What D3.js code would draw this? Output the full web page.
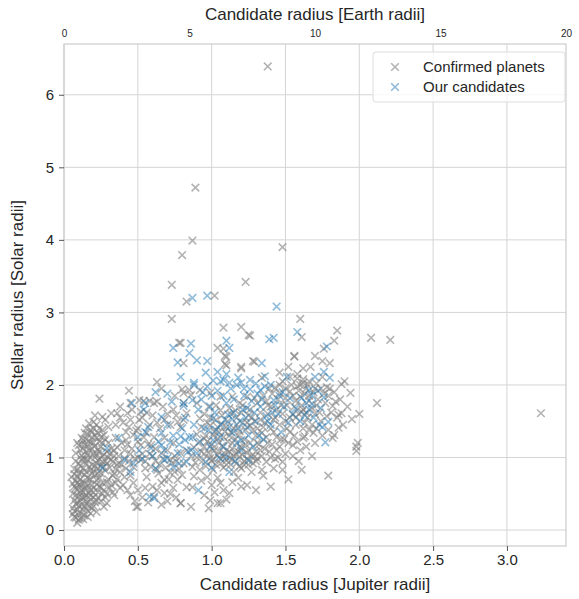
<!DOCTYPE html>
<html><head><meta charset="utf-8">
<script src="https://cdn.jsdelivr.net/npm/d3@7"></script>
<style>body{margin:0;background:#fff}text{font-family:"Liberation Sans",Arial,sans-serif;fill:#262626}</style>
</head><body><svg id="c" width="579" height="599"></svg>
<script>
// Confirmed planets: [planet radius (Jupiter radii), stellar radius (Solar radii)]
const confirmed = [
[1.38,6.39],[0.89,4.72],[0.87,3.99],[0.80,3.79],[1.48,3.90],[0.73,3.38],[1.23,3.42],[0.83,3.15],[1.02,3.23],[0.73,2.91],
[1.08,2.79],[1.20,2.80],[1.26,2.68],[0.78,2.58],[1.04,2.51],[1.08,2.50],[1.10,2.39],[1.10,2.27],[1.20,2.25],[1.29,2.32],
[1.60,2.91],[1.61,2.66],[1.85,2.75],[1.83,2.61],[1.56,2.39],[1.75,2.33],[1.80,2.30],[1.28,2.33],[1.62,2.23],[2.08,2.65],
[2.21,2.62],[3.23,1.61],[2.12,1.75],[1.94,1.89],[1.95,1.53],[1.99,1.20],[1.98,1.15],[1.98,1.09],[1.61,0.83],[1.79,0.75],
[1.88,2.01],[1.78,1.97],[1.75,2.11],[1.63,1.29],[1.69,1.34],[1.83,1.31],[1.82,1.27],[1.86,1.41],[1.88,1.61],[1.86,1.59],
[1.78,1.57],[1.61,1.63],[1.71,1.72],[1.84,1.77],[1.82,1.71],[1.60,2.00],[1.64,1.95],[1.62,2.08],[1.66,2.05],[1.58,1.98],
[1.25,2.69],[1.56,2.40],[1.09,2.40],[1.09,2.29],[1.20,2.23],[0.79,2.58],[1.34,2.10],[1.46,2.17],[1.53,2.11],[1.58,2.09],
[1.62,2.03],[1.46,2.00],[1.39,1.95],[1.46,1.89],[1.53,1.91],[1.60,1.84],[1.51,1.72],[1.56,1.70],[1.62,1.66],[1.55,1.59],
[1.44,1.66],[1.37,1.77],[1.29,1.82],[1.24,1.84],[1.19,1.75],[1.14,1.84],[1.06,1.84],[0.99,1.89],[0.92,1.93],[0.85,1.93],
[0.81,1.89],[0.83,1.61],[0.92,1.54],[0.97,1.48],[1.04,1.42],[1.10,1.42],[1.17,1.45],[1.24,1.48],[1.28,1.38],[1.35,1.42],
[1.42,1.52],[1.37,1.28],[1.31,1.20],[1.25,1.10],[1.19,1.15],[1.14,1.20],[1.12,1.08],[1.08,1.01],[1.04,1.03],[0.99,0.99],
[1.06,0.92],[1.10,0.90],[1.14,0.97],[1.19,1.01],[1.24,1.06],[1.33,1.10],[1.29,1.01],[1.34,0.83],[1.46,1.15],[1.48,0.83],
[1.62,1.27],[1.55,1.17],[1.48,0.94],[0.87,0.87],[0.92,0.83],[0.97,0.73],[1.01,0.83],[1.04,0.72],[1.12,0.51],[1.06,0.65],
[0.83,0.59],[0.79,1.06],[0.79,1.42],[0.81,1.52],[0.81,2.30],[1.06,0.37],[0.98,0.30],[0.99,0.41],[0.50,0.32],[0.79,0.37],
[1.04,0.37],[1.25,0.90],[1.30,0.95],[1.40,1.00],[1.50,1.05],[1.20,0.85],[1.15,0.80],[1.22,1.25],[1.18,1.30],[1.05,1.20],
[1.00,1.12],[0.95,1.05],[0.90,1.00],[0.96,1.30],[1.02,1.35],[1.08,1.28],[1.13,1.35],[1.27,1.55],[1.33,1.62],[1.40,1.70],
[1.45,1.80],[1.50,1.50],[1.57,1.45],[1.42,1.35],[1.38,1.20],[1.30,1.30],[1.13,1.60],[1.20,1.62],[1.06,1.65],[0.98,1.70],
[0.90,1.75],[1.00,0.95],[1.10,1.10],[1.16,1.05],[1.22,0.95],[1.27,0.80],[1.35,0.75],
[0.24,1.81],[0.63,2.04],[0.80,1.94],[0.32,1.61],[0.36,1.61],[0.26,1.56],[0.43,1.61],[0.45,1.75],[0.54,1.78],[0.61,1.75],
[0.20,1.49],[0.17,1.47],[0.45,1.52],[0.51,1.52],[0.49,1.37],[0.42,1.35],[0.42,1.24],[0.35,1.27],[0.12,1.27],[0.14,1.34],
[0.08,1.06],[0.05,0.73],[0.09,0.83],[0.16,0.97],[0.22,0.92],[0.27,0.87],[0.32,0.97],[0.36,0.90],[0.41,0.99],[0.47,0.87],
[0.52,0.97],[0.59,0.87],[0.66,0.65],[0.74,0.58],[0.79,0.37],[0.49,0.32],[0.34,0.48],[0.29,0.37],[0.22,0.25],[0.10,0.14],
[0.09,0.28],[0.07,0.41],[0.14,0.46],[0.18,0.55],[0.22,0.69],[0.14,0.65],[0.09,0.55],[0.25,0.59],[0.29,0.66],[0.12,0.79],
[0.18,0.83],[0.14,0.97],[0.20,1.06],[0.25,1.15],[0.29,1.08],[0.16,1.15],[0.10,1.17],[0.22,1.27],[0.27,1.31],[0.18,1.21],
[0.12,1.03],[0.17,0.87],[0.08,0.69],[0.14,0.32],[0.18,0.23],[0.12,0.23],[0.22,0.41],[0.27,0.32],[0.16,0.39],[0.07,0.18],
[0.10,0.46],[0.52,1.17],[0.59,1.17],[0.66,1.06],[0.72,0.97],[0.63,0.83],[0.72,0.79],[0.77,0.69],[0.68,0.69],[0.56,0.73],
[0.47,0.65],[0.41,0.73],[0.43,0.55],[0.61,0.46],[0.68,0.51],[0.87,0.59],[0.86,0.32],[0.56,1.34],[0.61,1.28],[0.68,1.27],
[0.74,1.20],[0.83,1.10],[0.81,0.92],[0.77,1.49],[0.68,1.52],[0.74,1.66],[0.52,1.63],[0.47,1.31],[0.81,1.75],[0.86,1.86],
[0.63,1.77],[0.51,1.79],[0.58,1.78],
[0.06,0.30],[0.08,0.36],[0.11,0.40],[0.13,0.52],[0.15,0.58],[0.11,0.62],[0.07,0.60],[0.19,0.62],[0.21,0.75],[0.16,0.72],
[0.13,0.85],[0.10,0.92],[0.19,0.90],[0.24,0.98],[0.21,1.00],[0.15,1.08],[0.23,1.10],[0.26,1.02],[0.30,1.20],[0.19,1.35],
[0.24,1.40],[0.15,1.40],[0.09,1.20],[0.13,1.12],[0.17,0.50],[0.20,0.45],[0.23,0.52],[0.26,0.50],[0.11,0.70],[0.06,0.50],
[0.09,0.10],[0.13,0.15],[0.16,0.27],[0.20,0.33],[0.25,0.78],[0.28,0.95],[0.31,1.05],[0.34,1.10],[0.37,1.02],[0.38,0.80],
[0.33,0.75],[0.31,0.58],[0.35,0.65],[0.39,1.20],[0.30,1.42],[0.35,1.45],[0.40,1.48],[0.28,1.52],[0.21,1.58],[0.12,0.55],
[0.15,0.80],[0.26,0.65],[0.23,0.85],[0.18,1.00],[0.28,0.45],[0.12,0.35],[0.20,1.20],[0.24,1.22],
[0.45,1.05],[0.50,1.00],[0.55,0.95],[0.58,1.05],[0.62,0.95],[0.65,0.90],[0.70,1.10],[0.75,1.02],[0.55,0.85],[0.60,0.60],
[0.45,0.75],[0.50,0.55],[0.53,0.45],[0.70,0.40],[0.75,0.80],[0.65,1.40],[0.58,1.45],[0.70,1.60],[0.75,1.85],[0.66,1.95],
[0.44,1.92],[0.38,1.70],[0.56,1.62],
[1.65,1.55],[1.70,1.60],[1.68,1.45],[1.74,1.50],[1.72,1.80],[1.76,1.88],[1.80,1.95],[1.70,1.95],[1.66,1.85],[1.55,1.85],
[1.50,1.95],[1.48,2.05],[1.52,2.25],[1.58,2.15],[1.67,2.25],[1.70,2.40],[1.76,2.50],[1.62,1.40],[1.56,1.30],[1.52,1.20],
[1.60,1.10],[1.70,1.20],[1.92,1.70],[1.90,2.05],[2.00,1.60],[1.45,1.00],[1.52,0.70],[1.40,0.60],[1.30,0.55],[1.20,0.60],
[0.06,0.22],[0.08,0.48],[0.10,0.33],[0.11,0.52],[0.12,0.66],[0.13,0.44],[0.14,0.58],[0.15,0.36],[0.16,0.62],[0.17,0.70],
[0.18,0.42],[0.19,0.78],[0.20,0.58],[0.21,0.88],[0.22,0.63],[0.23,0.96],[0.24,0.72],[0.25,0.88],[0.26,0.94],[0.27,1.04],
[0.28,0.82],[0.29,0.92],[0.30,1.00],[0.31,0.86],[0.32,1.12],[0.33,0.94],[0.34,1.02],[0.35,0.84],[0.36,1.14],[0.37,0.92],
[0.07,0.84],[0.08,0.95],[0.09,0.74],[0.10,0.62],[0.11,0.88],[0.12,0.97],[0.13,1.00],[0.14,0.76],[0.15,0.92],[0.16,1.03],
[0.17,1.10],[0.18,0.70],[0.19,1.12],[0.20,0.82],[0.21,1.16],[0.22,1.05],[0.23,0.78],[0.24,1.08],[0.25,1.28],[0.26,1.20],
[0.06,0.64],[0.07,0.77],[0.08,0.58],[0.09,0.65],[0.10,0.78],[0.11,1.10],[0.12,1.18],[0.13,1.24],[0.14,1.18],[0.15,1.25],
[0.16,1.32],[0.17,1.22],[0.18,1.38],[0.19,1.28],[0.20,1.40],[0.21,1.30],[0.22,1.45],[0.23,1.34],[0.26,1.38],[0.28,1.25],
[0.07,0.26],[0.08,0.17],[0.09,0.38],[0.10,0.24],[0.11,0.16],[0.12,0.45],[0.13,0.28],[0.14,0.20],[0.15,0.48],[0.16,0.18],
[0.17,0.33],[0.18,0.48],[0.19,0.30],[0.20,0.52],[0.21,0.38],[0.23,0.45],[0.24,0.60],[0.25,0.40],[0.27,0.55],[0.29,0.50],
[0.30,0.70],[0.32,0.62],[0.33,0.52],[0.34,0.78],[0.36,0.70],[0.38,0.58],[0.39,0.90],[0.40,0.62],[0.42,0.85],[0.44,0.95],
[0.41,1.10],[0.43,1.18],[0.46,1.12],[0.48,0.98],[0.50,1.22],[0.53,1.05],[0.54,1.28],[0.57,1.18],[0.60,1.02],[0.62,1.12],
[0.64,0.78],[0.67,0.98],[0.69,0.86],[0.71,0.70],[0.73,0.92],[0.76,0.95],[0.78,0.84],[0.80,0.76],[0.45,0.48],[0.48,0.40],
[0.55,0.58],[0.57,0.38],[0.63,0.55],[0.66,0.35],[0.72,0.50],[0.76,0.45],[0.44,1.42],[0.50,1.40],[0.53,1.55],[0.60,1.58],
[0.63,1.48],[0.67,1.70],[0.72,1.45],[0.76,1.58],[0.38,1.55],[0.46,1.66],
[0.86,1.02],[0.88,1.14],[0.89,0.93],[0.91,1.20],[0.93,1.08],[0.94,0.96],[0.95,1.15],[0.96,0.88],[0.97,1.22],[0.98,1.06],
[1.00,1.18],[1.01,0.98],[1.02,1.10],[1.03,0.90],[1.04,1.26],[1.05,1.08],[1.06,0.98],[1.07,1.16],[1.08,0.86],[1.09,1.05],
[1.10,0.96],[1.11,1.22],[1.12,1.00],[1.13,0.90],[1.14,1.12],[1.15,1.02],[1.16,1.25],[1.17,0.92],[1.18,1.08],[1.19,0.88],
[1.20,1.14],[1.21,1.04],[1.22,0.90],[1.23,1.18],[1.24,0.98],[1.26,1.20],[1.27,1.02],[1.28,0.92],[1.30,1.08],[1.31,0.98],
[1.32,1.18],[1.34,1.02],[1.36,1.12],[1.37,0.94],[1.39,1.08],[1.41,1.18],[1.43,0.98],[1.44,1.10],[0.90,1.32],[0.93,1.42],
[0.95,1.26],[0.99,1.44],[1.01,1.30],[1.03,1.52],[1.05,1.35],[1.07,1.46],[1.09,1.36],[1.11,1.50],[1.12,1.30],[1.15,1.40],
[1.17,1.55],[1.19,1.36],[1.21,1.48],[1.23,1.38],[1.25,1.58],[1.26,1.44],[1.29,1.50],[1.31,1.40],[1.33,1.52],[1.34,1.34],
[1.36,1.48],[1.38,1.60],[1.40,1.40],[1.43,1.55],[1.44,1.28],[1.46,1.45],[1.48,1.60],[1.49,1.25],[1.51,1.40],[1.53,1.55],
[0.95,1.60],[0.99,1.55],[1.03,1.72],[1.07,1.58],[1.12,1.68],[1.16,1.65],[1.21,1.72],[1.26,1.66],[1.31,1.75],[1.35,1.85],
[1.38,1.72],[1.41,1.88],[1.43,1.96],[1.47,1.72],[1.50,1.82],[1.54,2.00],[1.57,1.78],[1.59,1.92],[1.63,1.88],[1.65,2.00],
[1.61,1.72],[1.64,1.62],[1.66,1.78],[1.68,1.68],[1.69,1.90],[1.71,2.02],[1.73,1.62],[1.74,1.95],[1.77,1.75],[1.79,1.85],
[1.81,1.62],[1.83,1.90],[1.85,1.55],[1.87,1.80],[1.89,1.45],[1.59,1.60],[1.57,1.55],[1.63,1.48],[1.66,1.38],[1.71,1.40],
[1.75,1.30],[1.79,1.38],[1.58,1.22],[1.64,1.15],[1.55,1.02],[1.59,0.95],[1.68,1.02],[1.42,0.85],[1.47,1.25],[1.53,1.35],
[0.93,0.68],[1.00,0.62],[1.08,0.55],[1.14,0.66],[1.18,0.72],[1.24,0.62],[0.95,0.48],[1.02,0.52],[1.10,0.42],[0.88,0.74]
];
// Our candidates: [candidate radius (Jupiter radii), stellar radius (Solar radii)]
const candidates = [
[0.87,3.20],[0.97,3.23],[1.44,3.08],[1.58,2.73],[1.78,2.53],[1.39,2.63],[1.42,2.65],[1.34,2.30],[0.74,2.51],[0.86,2.57],
[0.85,2.44],[0.77,2.31],[0.90,2.34],[0.97,2.33],[1.10,2.61],[1.12,2.51],[1.76,2.18],[1.70,2.11],[1.80,2.10],[1.66,1.93],
[1.68,1.85],[1.76,1.83],[1.64,1.75],[1.68,1.74],[1.66,1.66],[1.79,1.49],[1.73,1.45],[1.75,1.42],[1.77,1.21],[0.96,2.17],
[1.04,2.18],[1.10,2.15],[0.88,2.03],[1.01,2.06],[1.08,2.07],[1.12,2.03],[1.18,2.10],[1.20,2.03],[1.26,2.07],[1.26,1.94],
[1.33,1.93],[0.79,2.11],[0.81,1.75],[0.87,1.79],[0.91,1.66],[0.99,1.70],[1.10,1.75],[1.11,1.59],[1.14,1.53],[1.01,1.54],
[1.24,1.68],[1.33,1.70],[1.37,1.57],[1.42,1.79],[1.51,2.11],[1.53,1.82],[0.82,1.24],[0.87,1.28],[0.90,1.06],[0.83,0.94],
[0.96,0.94],[1.01,1.24],[1.08,1.15],[1.12,0.80],[1.14,1.34],[1.20,1.24],[0.91,0.55],[0.79,1.29],[0.46,1.75],[0.54,1.66],
[0.70,1.88],[0.73,1.77],[0.81,1.71],[0.66,1.56],[0.55,1.35],[0.37,1.27],[0.29,1.13],[0.51,1.10],[0.59,1.13],[0.66,1.34],
[0.66,1.17],[0.72,1.21],[0.70,0.99],[0.77,1.06],[0.26,0.86],[0.45,0.80],[0.41,0.97],[0.47,0.92],[0.58,0.46],[0.61,0.44],
[0.74,0.87],[0.68,0.97],[0.85,1.28],[0.88,2.00],[0.94,1.90],[0.55,1.75],[1.06,1.45],[1.18,1.40],[1.25,1.30],[1.30,1.50],
[1.40,1.45],[1.45,1.60],[1.16,0.95],[1.05,1.00],[0.98,1.38],[1.28,1.15],[1.35,1.25],[1.47,1.35],[1.15,1.80],[1.22,1.85],
[1.48,1.90],[1.40,2.00],[1.55,1.60],[1.60,1.50],[0.62,1.90],[1.02,1.62],[1.08,1.85],[1.23,1.55],
[0.86,1.10],[0.92,1.22],[0.95,1.40],[0.99,1.15],[1.03,1.38],[1.06,1.28],[1.09,1.52],[1.12,1.42],[1.15,1.62],[1.17,1.20],
[1.19,1.50],[1.21,1.66],[1.24,1.42],[1.27,1.78],[1.29,1.62],[1.31,1.88],[1.34,1.80],[1.36,1.98],[1.38,1.50],[1.41,1.62],
[1.43,1.72],[1.46,1.85],[1.49,1.70],[1.52,1.48],[1.57,1.68],[1.61,1.82],[1.63,1.58],[1.69,1.55],[1.72,1.92],[1.74,1.68],
[0.93,1.80],[0.97,1.98],[1.00,1.85],[1.04,1.92],[1.06,2.05],[1.13,1.95],[1.17,2.00],[1.22,1.95],[1.30,2.02],[1.36,2.12],
[0.60,1.02],[0.64,1.22],[0.68,1.10],[0.70,1.45],[0.74,1.30],[0.78,1.18],[0.80,1.40],[0.82,1.55],[0.84,1.08],[0.88,1.45],
[0.50,1.28],[0.53,0.98],[0.57,1.42],[0.62,0.85],[0.78,0.92],[1.00,0.86],[1.10,1.00],[1.20,1.10],[1.25,0.96],[1.32,1.30]
];
const xTicks = [0.0,0.5,1.0,1.5,2.0,2.5,3.0];
const yTicks = [0,1,2,3,4,5,6];
const topTicks = [0,5,10,15,20];
const legendLabels = ["Confirmed planets","Our candidates"];
const colors = ["#808080","#1f77b4"];
const opac = [0.6,0.5];

const svg = d3.select("#c");
const L=64,R=566,T=44,B=546;
const x = d3.scaleLinear().domain([0,3.4]).range([L,R]);
const y = d3.scaleLinear().domain([-0.22,6.7]).range([B,T]);
const xTop = d3.scaleLinear().domain([0,20]).range([L,R]);

// grid
svg.append("g").selectAll("line").data(xTicks).join("line")
  .attr("x1",d=>x(d)).attr("x2",d=>x(d)).attr("y1",T).attr("y2",B)
  .attr("stroke","#d5d5d5").attr("stroke-width",1);
svg.append("g").selectAll("line").data(yTicks).join("line")
  .attr("y1",d=>y(d)).attr("y2",d=>y(d)).attr("x1",L).attr("x2",R)
  .attr("stroke","#d5d5d5").attr("stroke-width",1);

// frame
svg.append("rect").attr("x",L).attr("y",T).attr("width",R-L).attr("height",B-T)
  .attr("fill","none").attr("stroke","#cccccc").attr("stroke-width",1.2);

// axes
const xa = svg.append("g").attr("transform",`translate(0,${B})`)
  .call(d3.axisBottom(x).tickValues(xTicks).tickFormat(d3.format(".1f")).tickSize(5).tickPadding(3));
const ya = svg.append("g").attr("transform",`translate(${L},0)`)
  .call(d3.axisLeft(y).tickValues(yTicks).tickFormat(d3.format("d")).tickSize(5).tickPadding(5));
const ta = svg.append("g").attr("transform",`translate(0,${T})`)
  .call(d3.axisTop(xTop).tickValues(topTicks).tickSize(0).tickPadding(7));
[xa,ya,ta].forEach(a=>{a.select(".domain").remove();
  a.selectAll(".tick line").attr("stroke","#555");
  a.selectAll("text").attr("fill","#262626").style("font-family","'Liberation Sans',Arial,sans-serif");});
xa.selectAll("text").style("font-size","15px");
ya.selectAll("text").style("font-size","15px");
ta.selectAll("text").style("font-size","10px");

// labels
svg.append("text").attr("x",(L+R)/2).attr("y",590).attr("text-anchor","middle").style("font-size","17px").text("Candidate radius [Jupiter radii]");
svg.append("text").attr("x",(L+R)/2).attr("y",20).attr("text-anchor","middle").style("font-size","17px").text("Candidate radius [Earth radii]");
svg.append("text").attr("transform",`translate(23,${(T+B)/2}) rotate(-90)`).attr("text-anchor","middle").style("font-size","17px").text("Stellar radius [Solar radii]");

// markers
svg.append("clipPath").attr("id","clip").append("rect").attr("x",L).attr("y",T).attr("width",R-L).attr("height",B-T);
const xm = "M-3.8,-3.8L3.8,3.8M-3.8,3.8L3.8,-3.8";
const gp = svg.append("g").attr("clip-path","url(#clip)");
[confirmed,candidates].forEach((arr,i)=>{
  gp.append("g").selectAll("path").data(arr).join("path")
    .attr("d",xm).attr("transform",d=>`translate(${x(d[0])},${y(d[1])})`)
    .attr("fill","none").attr("stroke",colors[i]).attr("stroke-opacity",opac[i]).attr("stroke-width",1.6);
});

// legend
const lg = svg.append("g");
lg.append("rect").attr("x",373).attr("y",52).attr("width",192).attr("height",50).attr("rx",3)
  .attr("fill","#fff").attr("fill-opacity",0.8).attr("stroke","#dddddd");
legendLabels.forEach((t,i)=>{
  lg.append("path").attr("d",xm).attr("transform",`translate(395,${67+i*20})`)
    .attr("fill","none").attr("stroke",colors[i]).attr("stroke-opacity",opac[i]).attr("stroke-width",1.6);
  lg.append("text").attr("x",423).attr("y",72+i*20).style("font-size","15px").text(t);
});
</script></body></html>
